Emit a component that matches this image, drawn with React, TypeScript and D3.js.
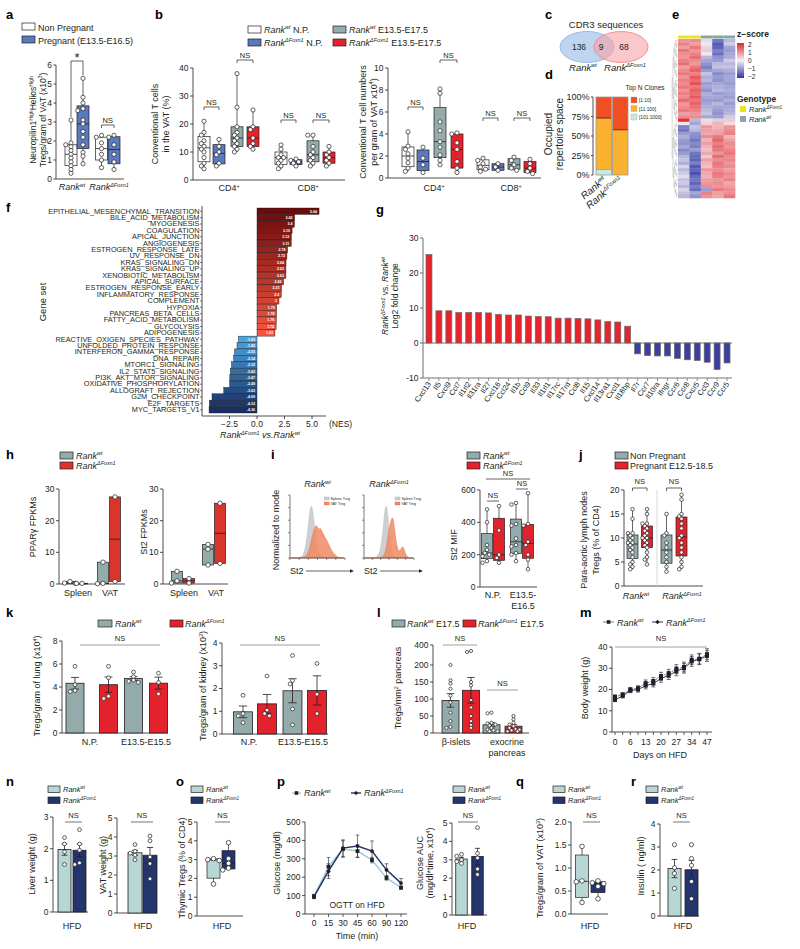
import React from "react";
import * as d3 from "d3";

const FONT = "'Liberation Sans', Arial, Helvetica, sans-serif";
const INK = "#231f20";
const BLUE = "#5b79bd";
const TEAL = "#93abaa";
const RED = "#e3222b";
const HRED = "#d9352b";
const LTEAL = "#b7d7d5";
const NAVY = "#24346c";

/* ================= DATA ================= */
// a
const aTicks = [0, 1, 2, 3, 4, 5, 6];
const aWtNP = [3.1, 1.9, 1.8, 1.7, 1.5, 1.3, 1.1, 0.9, 0.7, 0.5, 0.3];
const aWtP = [5.3, 4.3, 4.0, 3.7, 3.6, 3.1, 2.9, 2.5, 2.2, 1.8, 1.4, 1.2, 0.8];
const aKoNP = [2.3, 2.2, 1.9, 1.6, 1.3, 1.0, 0.6];
const aKoP = [2.3, 2.2, 1.8, 1.3, 0.9, 0.5];
// b (% of VAT)
const bPctCD4WtNP = [21, 17, 16, 14, 13, 12, 11, 10, 8, 6, 5, 4];
const bPctCD4KoNP = [14.5, 12, 10, 9, 6, 5];
const bPctCD4WtE = [38, 26, 19, 17, 16, 15, 14, 13, 12, 11, 10];
const bPctCD4KoE = [25, 19, 18, 15, 13, 12, 11];
const bPctCD8WtNP = [12.5, 11, 9, 8, 8, 7, 6, 5, 4];
const bPctCD8KoNP = [7.5, 7, 6.5, 6, 5];
const bPctCD8WtE = [16, 16, 12, 10, 9, 8, 7, 6, 5];
const bPctCD8KoE = [12, 10, 9, 8, 7, 6, 5];
// b (numbers per gram)
const bNumCD4WtNP = [4.2, 2.9, 2.6, 2.2, 1.8, 1.4, 0.9, 0.6];
const bNumCD4KoNP = [2.8, 1.8, 1.2, 0.5];
const bNumCD4WtE = [8.1, 7.7, 5.1, 4.3, 3.3, 2.8, 2.1, 1.6, 1.2];
const bNumCD4KoE = [4.1, 4.0, 3.2, 2.6, 1.5, 0.9, 0.5];
const bNumCD8WtNP = [1.8, 1.6, 1.3, 1.0, 0.8, 0.6];
const bNumCD8KoNP = [1.3, 1.0, 0.7];
const bNumCD8WtE = [1.9, 1.6, 1.2, 0.9, 0.7];
const bNumCD8KoE = [1.7, 1.3, 0.9, 0.6, 0.4];
// c
const cCounts = [136, 9, 68];
// d
const dSamples = ["wt", "ΔFoxn1"];
const dClones = ["[1:10]", "[11:100]", "[101:1000]"];
const d1_10 = [0.27, 0.42];
const d11_100 = [0.66, 0.58];
const d101_1000 = [0.07, 0.0];
// e
const eGenotype = ["KO", "KO", "WT", "WT", "WT"];
const eClusterSizes = [25, 23];
const eHeat = [
  [0.9, 1.0, -0.2, -1.3, -0.6], [1.1, 0.8, -0.1, -1.6, -0.4], [0.8, 1.2, 0.3, -1.5, -0.8],
  [1.2, 0.9, -0.3, -1.2, -0.9], [1.0, 1.1, 0.1, -1.4, -0.8], [0.9, 1.3, -0.6, -1.0, -0.7],
  [1.1, 1.0, -0.8, -0.9, -0.4], [1.3, 0.9, -1.0, -0.6, -0.6], [0.8, 1.2, -1.2, -0.5, -0.5],
  [1.0, 1.4, -0.9, -0.8, -0.7], [1.2, 1.1, -0.5, -1.1, -0.9], [0.9, 1.5, -0.7, -0.9, -0.8],
  [1.1, 1.3, -0.6, -1.0, -0.8], [1.0, 1.6, -0.9, -0.8, -0.9], [1.2, 1.2, -0.8, -0.7, -0.8],
  [0.9, 1.4, -1.0, -0.6, -0.7], [1.1, 1.3, -0.7, -0.9, -0.8], [1.0, 1.5, -0.8, -0.8, -0.9],
  [1.3, 1.2, -0.9, -0.9, -0.7], [0.9, 1.4, -0.8, -0.6, -0.9], [1.0, 1.3, -0.7, -0.8, -0.8],
  [1.2, 1.1, -0.6, -0.9, -0.7], [0.8, 0.9, -0.5, -1.0, -0.6], [1.0, 1.0, -0.8, -0.9, -0.4],
  [1.9, -0.6, 0.2, -0.3, 0.4],
  [0.1, -0.8, 0.3, 0.6, 0.2], [-1.2, -0.5, 0.9, 0.6, 0.9], [-1.3, -0.6, 0.8, 0.7, 1.0],
  [-0.9, -1.0, 0.7, 0.8, 1.1], [-0.7, -1.1, 1.0, 1.2, 0.6], [-0.9, -1.3, 0.6, 1.4, 0.8],
  [-1.0, -1.1, 0.8, 1.1, 1.0], [-0.8, -1.2, 0.6, 1.3, 0.9], [-1.1, -0.9, 0.5, 1.2, 1.1],
  [-0.9, -1.3, 0.7, 0.9, 1.2], [-0.6, -1.4, 0.4, 1.3, 1.0], [-0.5, -1.5, 0.8, 1.0, 1.1],
  [-0.7, -1.2, 0.6, 1.2, 0.9], [-0.3, -1.6, 0.5, 1.1, 1.0], [-0.6, -1.5, 0.9, 1.0, 0.8],
  [-0.4, -1.7, 0.7, 1.2, 1.0], [-0.2, -1.4, 0.6, 1.1, 0.9], [-0.5, -1.3, 0.8, 0.9, 1.1],
  [-0.4, -1.5, 0.9, 1.0, 0.7], [-0.6, -1.2, 1.0, 0.9, 0.8], [-0.3, -1.4, -0.9, 1.2, 1.0],
  [-0.5, -0.8, 1.1, 0.8, 1.0], [-0.6, -1.0, 0.9, 0.7, 1.2],
];
// f
const fNames = [
  "EPITHELIAL_MESENCHYMAL_TRANSITION", "BILE_ACID_METABOLISM", "MYOGENESIS", "COAGULATION",
  "APICAL_JUNCTION", "ANGIOGENESIS", "ESTROGEN_RESPONSE_LATE", "UV_RESPONSE_DN", "KRAS_SIGNALING_DN",
  "KRAS_SIGNALING_UP", "XENOBIOTIC_METABOLISM", "APICAL_SURFACE", "ESTROGEN_RESPONSE_EARLY",
  "INFLAMMATORY_RESPONSE", "COMPLEMENT", "HYPOXIA", "PANCREAS_BETA_CELLS", "FATTY_ACID_METABOLISM",
  "GLYCOLYSIS", "ADIPOGENESIS", "REACTIVE_OXIGEN_SPECIES_PATHWAY", "UNFOLDED_PROTEIN_RESPONSE",
  "INTERFERON_GAMMA_RESPONSE", "DNA_REPAIR", "MTORC1_SIGNALING", "IL2_STAT5_SIGNALING",
  "PI3K_AKT_MTOR_SIGNALING", "OXIDATIVE_PHOSPHORYLATION", "ALLOGRAFT_REJECTION", "G2M_CHECKPOINT",
  "E2F_TARGETS", "MYC_TARGETS_V1",
];
const fNES = [5.64, 3.42, 3.4, 3.19, 3.12, 3.11, 2.78, 2.72, 2.64, 2.63, 2.63, 2.42, 2.23, 2.2, 2, 1.79, 1.78, 1.76, 1.74, 1.63,
  -1.69, -1.82, -2.05, -2.14, -2.32, -2.43, -2.47, -2.49, -3.02, -4.09, -4.33, -4.36];
const fTicks = [-2.5, 0, 2.5, 5];
// g
const gGenes = ["Cxcl13", "Il5", "Cxcl9", "Ccl7", "Il1rl2", "Il31ra", "Il27", "Cxcl16", "Ccl24", "Il1b", "Ccl9", "Il33",
  "Il1rl1", "Il17rc", "Il17rd", "Ccl8", "Il15", "Cxcl14", "Il13ra1", "Cxcl1", "Il18bp", "Il7r", "Ccr7", "Il10ra",
  "Ifngr", "Ccr6", "Ccr8", "Cxcr5", "Ccl3", "Ccr9", "Ccr5"];
const gLFC = [25.3, 9.2, 9.2, 8.7, 8.7, 8.7, 8.6, 8.2, 8.0, 8.0, 7.7, 7.6, 7.5, 7.1, 7.1, 7.0, 6.9, 6.6, 6.1, 6.0, 4.8,
  -3.1, -3.6, -3.7, -3.7, -4.4, -4.8, -5.0, -5.5, -7.6, -5.7];
const gTicks = [-10, 0, 10, 20, 30];
// h
const hPparSpleenWt = [0.8, 0.3, 0.2];
const hPparSpleenKo = [0.2, 0.2];
const hPparVatWt = [6.9, 0.2, 0.1];
const hPparVatKo = [27.5, 0.8];
const hSt2SpleenWt = [4.0, 1.0, 0.3];
const hSt2SpleenKo = [1.7, 0.3];
const hSt2VatWt = [12.5, 11.0, 6.0];
const hSt2VatKo = [25.5, 6.5];
const hTicks = [0, 10, 20, 30];
// i
const iSpWt = [0, 0, 0, 0, 0, 0.01, 0.03, 0.08, 0.2, 0.45, 0.78, 1, 0.85, 0.55, 0.28, 0.12, 0.05, 0.02, 0.01, 0, 0, 0, 0, 0, 0, 0, 0, 0, 0, 0];
const iVatWt = [0, 0, 0, 0, 0, 0, 0, 0.01, 0.03, 0.07, 0.15, 0.3, 0.45, 0.55, 0.62, 0.5, 0.56, 0.48, 0.42, 0.35, 0.3, 0.22, 0.15, 0.1, 0.06, 0.03, 0.01, 0, 0, 0];
const iSpKo = [0, 0, 0, 0, 0, 0, 0.01, 0.02, 0.05, 0.12, 0.28, 0.55, 0.88, 1, 0.72, 0.35, 0.12, 0.04, 0.01, 0, 0, 0, 0, 0, 0, 0, 0, 0, 0, 0];
const iVatKo = [0, 0, 0, 0, 0, 0, 0, 0, 0, 0, 0.01, 0.03, 0.08, 0.2, 0.42, 0.6, 0.72, 0.75, 0.5, 0.26, 0.14, 0.13, 0.18, 0.22, 0.12, 0.04, 0.01, 0, 0, 0];
const iMifNPWt = [480, 400, 260, 230, 210, 200, 190, 160, 150];
const iMifNPKo = [500, 350, 200, 180, 150];
const iMifEWt = [520, 510, 390, 380, 300, 260, 250, 210, 200, 160];
const iMifEKo = [580, 390, 380, 280, 260, 200, 170, 110];
const iTicks = [0, 200, 400, 600];
// j
const jWtNP = [16, 14, 11, 11, 10.5, 10, 9.5, 9, 9, 8.5, 8, 7.5, 7, 6, 5, 4.5, 4, 3.5];
const jWtP = [16, 15, 13, 13, 12.5, 12, 11.5, 11, 10.5, 10, 10, 9.5, 9, 8.5, 8, 7, 6, 5.5, 4.5];
const jKoNP = [15, 11, 10.5, 9, 8, 7, 6, 5, 4, 3];
const jKoP = [19, 18, 15, 14.5, 14, 13, 12, 10.5, 10, 9, 8, 7, 6, 5, 4, 3.5];
const jTicks = [0, 5, 10, 15, 20];
// k
const kLungWtNP = [5.8, 4.2, 3.7, 3.6];
const kLungKoNP = [5.8, 4.8, 3.2, 3.0];
const kLungWtE = [5.3, 4.9, 4.6, 4.5, 4.4];
const kLungKoE = [5.2, 4.4, 3.4];
const kKidWtNP = [1.7, 0.9, 0.8, 0.5];
const kKidKoNP = [2.55, 1.05, 0.9, 0.8];
const kKidWtE = [3.45, 2.35, 2.2, 1.1, 0.4];
const kKidKoE = [3.1, 1.75, 0.9];
// l
const lIsletWt = [200, 155, 145, 130, 110, 90, 60, 35, 18, 15];
const lIsletKo = [340, 330, 150, 140, 97, 75, 50, 35, 24, 15];
const lExoWt = [60, 58, 30, 28, 25, 22, 15, 10, 8, 5, 5];
const lExoKo = [50, 40, 30, 25, 20, 15, 12, 10, 8, 5, 5];
const lTicks = [0, 50, 100, 150, 200, 400];
// m
const mDays = [0, 3, 6, 10, 13, 16, 20, 23, 27, 30, 34, 41, 47];
const mWt = [16.6, 17.6, 20.0, 20.6, 23.0, 24.0, 26.3, 27.6, 29.6, 30.6, 34.0, 34.5, 36.6];
const mKo = [15.1, 17.0, 19.5, 20.0, 21.8, 22.8, 25.2, 26.6, 28.6, 30.0, 33.2, 34.2, 35.8];
const mErr = [0.8, 1.0, 1.0, 1.2, 1.5, 1.6, 1.8, 1.9, 2.1, 2.3, 2.3, 2.5, 2.6];
// n
const nLiverWt = [2.35, 2.15, 1.9, 1.5];
const nLiverKo = [2.6, 2.15, 1.95, 1.55, 1.5];
const nVatWt = [3.6, 3.25, 3.15, 3.05, 2.8];
const nVatKo = [4.05, 3.8, 2.95, 2.6, 1.8];
// o
const oThyWt = [3.05, 3.0, 2.95, 1.7];
const oThyKo = [3.9, 3.05, 2.8, 2.55, 2.45];
// p
const pTimes = [0, 15, 30, 45, 60, 90, 120];
const pWt = [95, 257, 353, 342, 293, 196, 143];
const pWtErr = [12, 50, 45, 35, 15, 12, 8];
const pKo = [95, 233, 358, 369, 342, 240, 168];
const pKoErr = [10, 40, 45, 60, 55, 33, 25];
const pAucWt = [3.3, 3.2, 3.0, 2.9, 2.8];
const pAucKo = [4.75, 3.35, 3.1, 2.5, 2.2];
// q
const qVatWt = [1.47, 0.72, 0.70, 0.25];
const qVatKo = [0.72, 0.68, 0.66, 0.6, 0.33];
// r
const rInsWt = [3.1, 2.1, 1.85, 1.2];
const rInsKo = [3.1, 2.5, 2.2, 1.5, 0.75];

/* ================= HELPERS ================= */
function gq(s: number[], p: number) {
  const n = s.length;
  const r = (n + 1) * p;
  if (r <= 1) return s[0];
  if (r >= n) return s[n - 1];
  const lo = Math.floor(r);
  const f = r - lo;
  return s[lo - 1] + f * (s[lo] - s[lo - 1]);
}
function stats(vals: number[]) {
  const s = [...vals].sort((a, b) => a - b);
  return { min: s[0], max: s[s.length - 1], q1: gq(s, 0.25), med: d3.median(s) as number, q3: gq(s, 0.75) };
}
function dodge(vals: number[], y: any, cx: number, r: number, maxOff: number) {
  const out: { x: number; y: number }[] = [];
  const sorted = [...vals].sort((a, b) => b - a);
  const step = r * 1.25;
  const cands = [0];
  for (let k = 1; k * step <= maxOff + 0.01; k++) cands.push(-k * step, k * step);
  sorted.forEach((v) => {
    const yy = y(v);
    let bestO = cands[0], bestD = -1;
    for (const o of cands) {
      const d = out.reduce((m, p) => Math.min(m, Math.hypot(p.x - (cx + o), p.y - yy)), Infinity);
      if (d >= 2 * r * 0.9) { bestO = o; break; }
      if (d > bestD) { bestD = d; bestO = o; }
    }
    out.push({ x: cx + bestO, y: yy });
  });
  return out;
}
function Pts({ vals, y, cx, r = 2.1, maxOff = 5, fill = "#fff" }: any) {
  const ps = dodge(vals, y, cx, r, maxOff);
  return <g>{ps.map((p, i) => <circle key={i} cx={p.x} cy={p.y} r={r} fill={fill} stroke={INK} strokeWidth={0.7} />)}</g>;
}
function BoxPlot({ cx, w, vals, y, fill, r = 2.1, minmax = false }: any) {
  const s = stats(vals);
  const lo = minmax ? s.min : s.q1;
  const hi = minmax ? s.max : s.q3;
  return (
    <g>
      {!minmax && <line x1={cx} x2={cx} y1={y(s.min)} y2={y(s.max)} stroke={INK} strokeWidth={0.7} />}
      <rect x={cx - w / 2} y={y(hi)} width={w} height={Math.max(0.6, y(lo) - y(hi))} fill={fill} stroke={INK} strokeWidth={0.7} />
      <line x1={cx - w / 2} x2={cx + w / 2} y1={y(s.med)} y2={y(s.med)} stroke={INK} strokeWidth={0.8} />
      <Pts vals={vals} y={y} cx={cx} r={r} maxOff={w / 2} />
    </g>
  );
}
function BarSem({ cx, w, vals, y, fill, r = 1.9 }: any) {
  const m = d3.mean(vals) as number;
  const se = (d3.deviation(vals) || 0) / Math.sqrt(vals.length);
  const cw = w * 0.22;
  return (
    <g>
      <rect x={cx - w / 2} y={y(m)} width={w} height={y(0) - y(m)} fill={fill} stroke={INK} strokeWidth={0.8} />
      <path d={`M${cx},${y(Math.max(0, m - se))}V${y(m + se)}M${cx - cw},${y(m + se)}H${cx + cw}M${cx - cw},${y(Math.max(0, m - se))}H${cx + cw}`} stroke={INK} strokeWidth={0.8} fill="none" />
      <Pts vals={vals} y={y} cx={cx} r={r} maxOff={w / 2 - 1} />
    </g>
  );
}
function YAxis({ x, y, ticks, fmt, size = 8.5, len = 3, color = INK, sw = 0.8 }: any) {
  const rg = y.range();
  const top = Math.min(...rg), bot = Math.max(...rg);
  const f = fmt || ((v: number) => String(v));
  return (
    <g>
      <line x1={x} x2={x} y1={top} y2={bot} stroke={color} strokeWidth={sw} />
      {ticks.map((t: number) => (
        <g key={t}>
          <line x1={x - len} x2={x} y1={y(t)} y2={y(t)} stroke={color} strokeWidth={sw} />
          <text x={x - len - 1.5} y={y(t) + size * 0.35} textAnchor="end" fontSize={size} fill={INK}>{f(t)}</text>
        </g>
      ))}
    </g>
  );
}
function HLine({ x1, x2, y, c = INK, w = 0.8 }: any) {
  return <line x1={x1} x2={x2} y1={y} y2={y} stroke={c} strokeWidth={w} />;
}
function Bracket({ x1, x2, y, label = "NS", legs = 3, l1, l2, size = 7.5, ty, color = INK, sw = 0.7 }: any) {
  const a = l1 ?? y + legs, b = l2 ?? y + legs;
  return (
    <g>
      <path d={`M${x1},${a}V${y}H${x2}V${b}`} fill="none" stroke={color} strokeWidth={sw} />
      <text x={(x1 + x2) / 2} y={ty ?? y - 2.5} textAnchor="middle" fontSize={size} fill={INK}>{label}</text>
    </g>
  );
}
function Letter({ x, y, t }: any) {
  return <text x={x} y={y} fontSize={13} fontWeight="bold" fill="#000">{t}</text>;
}
function LRect({ x, y, fill, w = 13, h = 7 }: any) {
  return <rect x={x} y={y} width={w} height={h} fill={fill} stroke={INK} strokeWidth={0.7} />;
}
function VText({ x, y, size = 9, children }: any) {
  return <text transform={`translate(${x},${y}) rotate(-90)`} textAnchor="middle" fontSize={size} fill={INK}>{children}</text>;
}
function rk(sup: string, size: number, after?: string, italicAfter = false) {
  const d = size * 0.38;
  return (
    <>
      <tspan fontStyle="italic">Rank</tspan>
      <tspan fontStyle="italic" fontSize={size * 0.6} dy={-d}>{sup}</tspan>
      {after !== undefined ? <tspan dy={d} fontStyle={italicAfter ? "italic" : undefined}>{after}</tspan> : null}
    </>
  );
}
function sp(t: string, size: number, after = "") {
  const d = size * 0.38;
  return (
    <>
      <tspan fontSize={size * 0.6} dy={-d}>{t}</tspan>
      <tspan dy={d}>{after}</tspan>
    </>
  );
}

/* ================= PANELS ================= */
function PanelA() {
  const y = d3.scaleLinear().domain([0, 6]).range([179, 65]);
  const xs = [71, 83, 101.5, 114];
  const sets = [aWtNP, aWtP, aKoNP, aKoP];
  const fills = ["#fff", BLUE, "#fff", BLUE];
  return (
    <g>
      <Letter x={6} y={19} t="a" />
      <LRect x={22} y={23} fill="#fff" />
      <text x={38} y={30.5} fontSize={9}>Non Pregnant</text>
      <LRect x={22} y={36} fill={BLUE} />
      <text x={38} y={43.5} fontSize={9}>Pregnant (E13.5-E16.5)</text>
      <YAxis x={56} y={y} ticks={aTicks} len={2.5} />
      <HLine x1={56} x2={124} y={179} />
      {sets.map((s, i) => <BoxPlot key={i} cx={xs[i]} w={12} vals={s} y={y} fill={fills[i]} />)}
      <Bracket x1={71} x2={83} y={61} label="*" size={13} ty={62} l1={y(3.1) - 3} l2={y(5.3) - 3} />
      <Bracket x1={101.5} x2={114} y={125} />
      <text x={72} y={190} textAnchor="middle" fontSize={9}>{rk("wt", 9)}</text>
      <text x={109} y={190} textAnchor="middle" fontSize={9}>{rk("ΔFoxn1", 9)}</text>
      <VText x={36} y={120} size={8.5}>Neuropilin1{sp("High", 8.5, "Helios")}{sp("High", 8.5)}</VText>
      <VText x={45.5} y={120} size={8.5}>Tregs/gram of VAT (x10{sp("3", 8.5, ")")}</VText>
    </g>
  );
}

function PanelB() {
  const yl = d3.scaleLinear().domain([0, 40]).range([180, 68]);
  const yr = d3.scaleLinear().domain([0, 10]).range([178, 68]);
  const fills = ["#fff", BLUE, TEAL, RED, "#fff", BLUE, TEAL, RED];
  const lx = [204, 219, 237, 253, 281, 296, 313, 329];
  const rx = [408, 423, 440, 457, 483, 498, 514, 530];
  const ld = [bPctCD4WtNP, bPctCD4KoNP, bPctCD4WtE, bPctCD4KoE, bPctCD8WtNP, bPctCD8KoNP, bPctCD8WtE, bPctCD8KoE];
  const rd = [bNumCD4WtNP, bNumCD4KoNP, bNumCD4WtE, bNumCD4KoE, bNumCD8WtNP, bNumCD8KoNP, bNumCD8WtE, bNumCD8KoE];
  return (
    <g>
      <Letter x={155} y={19} t="b" />
      <LRect x={248} y={26} fill="#fff" />
      <text x={264} y={32.5} fontSize={9}>{rk("wt", 9, " N.P.")}</text>
      <LRect x={248} y={39} fill={BLUE} />
      <text x={264} y={45.5} fontSize={9}>{rk("ΔFoxn1", 9, " N.P.")}</text>
      <LRect x={333} y={26} fill={TEAL} />
      <text x={349} y={32.5} fontSize={9}>{rk("wt", 9, " E13.5-E17.5")}</text>
      <LRect x={333} y={39} fill={RED} />
      <text x={349} y={45.5} fontSize={9}>{rk("ΔFoxn1", 9, " E13.5-E17.5")}</text>

      <YAxis x={193} y={yl} ticks={[0, 10, 20, 30, 40]} />
      <HLine x1={193} x2={345} y={180} />
      {ld.map((s, i) => <BoxPlot key={i} cx={lx[i]} w={12} vals={s} y={yl} fill={fills[i]} />)}
      <Bracket x1={lx[0]} x2={lx[1]} y={107} />
      <Bracket x1={lx[2]} x2={lx[3]} y={60} />
      <Bracket x1={lx[4]} x2={lx[5]} y={120} />
      <Bracket x1={lx[6]} x2={lx[7]} y={120} />
      <text x={229} y={191} textAnchor="middle" fontSize={9}>CD4{sp("+", 9)}</text>
      <text x={308} y={191} textAnchor="middle" fontSize={9}>CD8{sp("+", 9)}</text>
      <VText x={158} y={124}>Conventional T cells</VText>
      <VText x={169} y={124}>in the VAT (%)</VText>

      <YAxis x={388} y={yr} ticks={[0, 2, 4, 6, 8, 10]} />
      <HLine x1={388} x2={541} y={178} />
      {rd.map((s, i) => <BoxPlot key={i} cx={rx[i]} w={12} vals={s} y={yr} fill={fills[i]} />)}
      <Bracket x1={rx[0]} x2={rx[1]} y={107} />
      <Bracket x1={rx[2]} x2={rx[3]} y={60} />
      <Bracket x1={rx[4]} x2={rx[5]} y={118} />
      <Bracket x1={rx[6]} x2={rx[7]} y={118} />
      <text x={434} y={191} textAnchor="middle" fontSize={9}>CD4{sp("+", 9)}</text>
      <text x={511} y={191} textAnchor="middle" fontSize={9}>CD8{sp("+", 9)}</text>
      <VText x={366} y={122}>Conventional T cell numbers</VText>
      <VText x={376.5} y={122}>per gram of VAT x10{sp("4", 9, ")")}</VText>
    </g>
  );
}

function PanelC() {
  return (
    <g>
      <Letter x={545} y={19} t="c" />
      <text x={606} y={28} textAnchor="middle" fontSize={9.5}>CDR3 sequences</text>
      <ellipse cx={587} cy={47} rx={27} ry={15.5} fill="#aac7ea" fillOpacity={0.75} stroke="#86ade0" strokeWidth={0.8} />
      <ellipse cx={621} cy={47} rx={27} ry={15.5} fill="#f6a2a8" fillOpacity={0.6} stroke="#ef7d85" strokeWidth={0.8} />
      <text x={579} y={50} textAnchor="middle" fontSize={8.5}>{cCounts[0]}</text>
      <text x={601} y={50} textAnchor="middle" fontSize={8.5}>{cCounts[1]}</text>
      <text x={624} y={50} textAnchor="middle" fontSize={8.5}>{cCounts[2]}</text>
      <text x={583} y={71} textAnchor="middle" fontSize={9.5}>{rk("wt", 9.5)}</text>
      <text x={625} y={71} textAnchor="middle" fontSize={9.5}>{rk("ΔFoxn1", 9.5)}</text>
    </g>
  );
}

function PanelD() {
  const y = d3.scaleLinear().domain([0, 1]).range([175, 97]);
  const x = d3.scaleBand<string>().domain(dSamples).range([596, 628]).paddingInner(0.06);
  const rows = dSamples.map((s, i) => ({ s, c: d101_1000[i], b: d11_100[i], a: d1_10[i] }));
  const stack = d3.stack<any>().keys(["c", "b", "a"])(rows);
  const cols: any = { a: "#f04e23", b: "#f9b12f", c: "#c6e9e1" };
  const labs: any = { a: dClones[0], b: dClones[1], c: dClones[2] };
  const pct = d3.format(".0%");
  return (
    <g>
      <Letter x={545} y={79} t="d" />
      <text x={645} y={90} textAnchor="middle" fontSize={6.5}>Top N Clones</text>
      <YAxis x={593} y={y} ticks={[0, 0.25, 0.5, 0.75, 1]} fmt={pct} size={9} len={2} />
      {stack.map((layer: any) =>
        layer.map((seg: any, i: number) => (
          <rect key={layer.key + i} x={x(rows[i].s)} y={y(seg[1])} width={x.bandwidth()} height={Math.max(0, y(seg[0]) - y(seg[1]))} fill={cols[layer.key]} />
        ))
      )}
      {stack[2].map((seg: any, i: number) => (
        <line key={"b" + i} x1={x(rows[i].s)} x2={(x(rows[i].s) as number) + x.bandwidth()} y1={y(seg[0])} y2={y(seg[0])} stroke="#7d2a14" strokeWidth={1} />
      ))}
      {stack[1].map((seg: any, i: number) => rows[i].c > 0 ? (
        <line key={"c" + i} x1={x(rows[i].s)} x2={(x(rows[i].s) as number) + x.bandwidth()} y1={y(seg[0])} y2={y(seg[0])} stroke="#999" strokeWidth={0.7} />
      ) : null)}
      {rows.map((r, i) => (
        <rect key={"o" + i} x={x(r.s)} y={y(1)} width={x.bandwidth()} height={y(0) - y(1)} fill="none" stroke="#9a9a9a" strokeWidth={0.8} />
      ))}
      {["a", "b", "c"].map((k, i) => (
        <g key={k}>
          <rect x={631} y={97 + i * 8.5} width={6} height={6} fill={cols[k]} stroke="#aaa" strokeWidth={0.4} />
          <text x={639} y={102 + i * 8.5} fontSize={4.8}>{labs[k]}</text>
        </g>
      ))}
      {rows.map((r, i) => (
        <text key={"l" + i} transform={`translate(${(x(r.s) as number) + x.bandwidth() / 2 + 3},${181}) rotate(-40)`} textAnchor="end" fontSize={10}>{rk(r.s, 10)}</text>
      ))}
      <VText x={552} y={134} size={10}>Occupied</VText>
      <VText x={563} y={134} size={10}>repertoire space</VText>
    </g>
  );
}

function PanelE() {
  const x0 = 678, x1 = 735, y0 = 39, y1 = 198;
  const xs = d3.scaleBand<number>().domain(d3.range(5)).range([x0, x1]);
  const ys = d3.scaleBand<number>().domain(d3.range(eHeat.length)).range([y0, y1]);
  const col = d3.scaleLinear<string>().domain([-2, 0, 2]).range(["#2b36a6", "#f5f0f5", "#e3262b"]).clamp(true);
  const segs: string[] = [];
  const split = eClusterSizes[0];
  function node(lo: number, hi: number): { y: number; h: number } {
    if (hi - lo === 1) return { y: (ys(lo) as number) + ys.bandwidth() / 2, h: 0 };
    const mid = lo === 0 && hi === eHeat.length ? split : Math.floor((lo + hi) / 2);
    const L = node(lo, mid), R = node(mid, hi);
    const h = Math.max(L.h, R.h) + 1;
    const xh = x0 - 0.5 - h * 0.9, xl = x0 - 0.5 - L.h * 0.9, xr = x0 - 0.5 - R.h * 0.9;
    segs.push(`M${xl},${L.y}H${xh}V${R.y}H${xr}`);
    return { y: (L.y + R.y) / 2, h };
  }
  node(0, eHeat.length);
  const zb = d3.scaleLinear().domain([-2, 2]).range([77, 45]);
  return (
    <g>
      <Letter x={672} y={19} t="e" />
      {segs.map((d, i) => <path key={i} d={d} fill="none" stroke="#888" strokeWidth={0.35} />)}
      {eHeat.map((row, ri) =>
        row.map((v, ci) => (
          <rect key={ri + "-" + ci} x={xs(ci)} y={ys(ri)} width={xs.bandwidth() + 0.3} height={ys.bandwidth() + 0.3} fill={col(v)} />
        ))
      )}
      {eGenotype.map((g, ci) => (
        <rect key={"g" + ci} x={xs(ci)} y={35.5} width={xs.bandwidth()} height={3} fill={g === "KO" ? "#e6e61a" : "#8aa5a5"} />
      ))}
      <defs>
        <linearGradient id="zgrad" x1="0" y1="0" x2="0" y2="1">
          <stop offset="0%" stopColor={col(2)} />
          <stop offset="50%" stopColor={col(0)} />
          <stop offset="100%" stopColor={col(-2)} />
        </linearGradient>
      </defs>
      <text x={737} y={37} fontSize={8.5} fontWeight="bold">z−score</text>
      <rect x={737} y={43} width={7} height={35} fill="url(#zgrad)" />
      {[2, 1, 0, -1, -2].map((t) => (
        <text key={t} x={748} y={zb(t) + 2} fontSize={6.5}>{t < 0 ? "−" + Math.abs(t) : t}</text>
      ))}
      <text x={737} y={102} fontSize={8.5} fontWeight="bold">Genotype</text>
      <rect x={740} y={106} width={6} height={6} fill="#e6e61a" />
      <text x={749} y={112} fontSize={7.5}>{rk("ΔFoxn1", 7.5)}</text>
      <rect x={740} y={116} width={6} height={6} fill="#8aa5a5" />
      <text x={749} y={122} fontSize={7.5}>{rk("wt", 7.5)}</text>
    </g>
  );
}

function PanelF() {
  const y = d3.scaleBand<string>().domain(fNames).range([208, 413]);
  const x = d3.scaleLinear().domain([0, 5]).range([257, 312]);
  const nPos = fNES.filter((v) => v > 0).length;
  const nNeg = fNES.length - nPos;
  const redI = d3.interpolateRgb("#6b0b0d", "#f5553f");
  const bluI = d3.interpolateRgb("#4aa3df", "#1a2d60");
  const color = (i: number) => (i < nPos ? redI(i / (nPos - 1)) : bluI((i - nPos) / (nNeg - 1)));
  const fmt = d3.format(".1f");
  const bw = y.bandwidth();
  return (
    <g>
      <Letter x={6} y={212} t="f" />
      <line x1={202} x2={202} y1={206} y2={416} stroke={INK} strokeWidth={0.8} />
      <line x1={202} x2={326} y1={416} y2={416} stroke={INK} strokeWidth={0.8} />
      {fNames.map((n, i) => {
        const yy = y(n) as number;
        const v = fNES[i];
        const xa = x(Math.min(0, v)), xb = x(Math.max(0, v));
        return (
          <g key={n}>
            <rect x={xa} y={yy} width={xb - xa} height={bw} fill={color(i)} stroke="#1a1a1a" strokeWidth={0.4} />
            <text x={v > 0 ? xb - 2 : x(0) - 2} y={yy + bw / 2 + 1.3} textAnchor="end" fontSize={3.6} fill="#fff" fontWeight="bold">{v}</text>
            <line x1={200} x2={202} y1={yy + bw / 2} y2={yy + bw / 2} stroke={INK} strokeWidth={0.6} />
            <text transform={`translate(199.5,${yy + bw / 2 + 2.3}) scale(1.17,1)`} textAnchor="end" fontSize={6.3}>{n}</text>
          </g>
        );
      })}
      {fTicks.map((t) => (
        <g key={t}>
          <line x1={x(t)} x2={x(t)} y1={416} y2={419} stroke={INK} strokeWidth={0.8} />
          <text x={x(t)} y={427} textAnchor="middle" fontSize={8.5}>{fmt(t)}</text>
        </g>
      ))}
      <text x={329} y={427} fontSize={8.5}>(NES)</text>
      <text x={260} y={438} textAnchor="middle" fontSize={9}>
        {rk("ΔFoxn1", 9, " vs.", true)}<tspan fontStyle="italic">Rank</tspan><tspan fontStyle="italic" fontSize={5.4} dy={-3.4}>wt</tspan>
      </text>
      <VText x={46} y={302} size={9.5}>Gene set</VText>
    </g>
  );
}

function PanelG() {
  const y = d3.scaleLinear().domain([-10, 30]).range([378, 238]);
  const x = d3.scaleBand<string>().domain(gGenes).range([424, 732]).paddingInner(0.4).paddingOuter(0.2);
  return (
    <g>
      <Letter x={376} y={214} t="g" />
      <YAxis x={423} y={y} ticks={gTicks} color="#777" sw={1.1} />
      <line x1={423} x2={732} y1={y(0)} y2={y(0)} stroke="#777" strokeWidth={1.1} />
      <line x1={423} x2={732} y1={y(-10)} y2={y(-10)} stroke="#777" strokeWidth={1.1} />
      {gGenes.map((g, i) => {
        const v = gLFC[i];
        const xx = x(g) as number;
        const cx = xx + x.bandwidth() / 2;
        return (
          <g key={g}>
            <rect x={xx} y={y(Math.max(0, v))} width={x.bandwidth()} height={Math.abs(y(v) - y(0))} fill={v > 0 ? "#e8232b" : "#3d3ea2"} stroke="#6a6a6a" strokeWidth={0.7} />
            <line x1={cx} x2={cx} y1={378} y2={381} stroke="#777" strokeWidth={0.8} />
            <text transform={`translate(${cx + 2.5},${384}) rotate(-55)`} textAnchor="end" fontSize={7.5}>{g}</text>
          </g>
        );
      })}
      <text transform="translate(388,296) rotate(-90)" textAnchor="middle" fontSize={8.5}>
        {rk("ΔFoxn1", 8.5, " vs. ")}<tspan fontStyle="italic">Rank</tspan><tspan fontStyle="italic" fontSize={5.1} dy={-3.2}>wt</tspan>
      </text>
      <VText x={398} y={296} size={8.5}>Log2 fold change</VText>
    </g>
  );
}

function PanelH() {
  const y = d3.scaleLinear().domain([0, 30]).range([584, 489]);
  const fills = [TEAL, HRED, TEAL, HRED];
  const L = [hPparSpleenWt, hPparSpleenKo, hPparVatWt, hPparVatKo];
  const R = [hSt2SpleenWt, hSt2SpleenKo, hSt2VatWt, hSt2VatKo];
  const lx = [70, 82, 103, 115];
  const rx = [177, 189, 208, 220];
  return (
    <g>
      <Letter x={6} y={459} t="h" />
      <LRect x={60} y={452} fill={TEAL} />
      <text x={76} y={458.5} fontSize={9}>{rk("wt", 9)}</text>
      <LRect x={60} y={462} fill={HRED} />
      <text x={76} y={468.5} fontSize={9}>{rk("ΔFoxn1", 9)}</text>

      <YAxis x={59} y={y} ticks={hTicks} />
      <HLine x1={59} x2={125} y={584} />
      {L.map((s, i) => <BoxPlot key={i} cx={lx[i]} w={11} vals={s} y={y} fill={fills[i]} minmax r={2.2} />)}
      <text x={78} y={596} textAnchor="middle" fontSize={9}>Spleen</text>
      <text x={110} y={596} textAnchor="middle" fontSize={9}>VAT</text>
      <VText x={36} y={527}>PPARγ FPKMs</VText>

      <YAxis x={163} y={y} ticks={hTicks} />
      <HLine x1={163} x2={228} y={584} />
      {R.map((s, i) => <BoxPlot key={i} cx={rx[i]} w={11} vals={s} y={y} fill={fills[i]} minmax r={2.2} />)}
      <text x={184} y={596} textAnchor="middle" fontSize={9}>Spleen</text>
      <text x={216} y={596} textAnchor="middle" fontSize={9}>VAT</text>
      <VText x={147} y={532}>St2 FPKMs</VText>
    </g>
  );
}

function Flow({ x0, x1, yT, yB, spl, vat, sup }: any) {
  const x = d3.scaleLinear().domain([0, spl.length - 1]).range([x0 + 1, x1 - 1]);
  const y = d3.scaleLinear().domain([0, 1]).range([yB, yT + 8]);
  const ar = d3.area<number>().x((_, i) => x(i)).y0(yB).y1((d) => y(d)).curve(d3.curveBasis);
  const lx = x0 + (x1 - x0) * 0.62;
  return (
    <g>
      <text x={(x0 + x1) / 2} y={yT - 8} textAnchor="middle" fontSize={9}>{rk(sup, 9)}</text>
      <path d={ar(spl) as string} fill="#cfcfcf" stroke="#b3b3b3" strokeWidth={0.4} />
      <path d={ar(vat) as string} fill="#f08a63" fillOpacity={0.85} stroke="#e4663e" strokeWidth={0.4} />
      <line x1={x0} x2={x0} y1={yT} y2={yB} stroke={INK} strokeWidth={0.6} />
      <line x1={x0} x2={x1} y1={yB} y2={yB} stroke={INK} strokeWidth={0.6} />
      {d3.range(6).map((i) => (
        <line key={"ty" + i} x1={x0 - 2} x2={x0} y1={yB - (i * (yB - yT)) / 5} y2={yB - (i * (yB - yT)) / 5} stroke={INK} strokeWidth={0.5} />
      ))}
      {d3.range(7).map((i) => (
        <line key={"tx" + i} x1={x0 + (i * (x1 - x0)) / 6} x2={x0 + (i * (x1 - x0)) / 6} y1={yB} y2={yB + 2} stroke={INK} strokeWidth={0.5} />
      ))}
      <rect x={lx} y={yT + 2} width={5} height={3} fill="#cfcfcf" stroke="#999" strokeWidth={0.3} />
      <text x={lx + 6.5} y={yT + 4.8} fontSize={3.6}>Spleen Treg</text>
      <rect x={lx} y={yT + 7} width={5} height={3} fill="#f08a63" stroke="#c55" strokeWidth={0.3} />
      <text x={lx + 6.5} y={yT + 9.8} fontSize={3.6}>VAT Treg</text>
      <text x={x0} y={574} fontSize={9}>St2</text>
      <line x1={x0 + 16} x2={x1 + 6} y1={571} y2={571} stroke={INK} strokeWidth={0.7} />
      <path d={`M${x1 + 9},571L${x1 + 5},569.3L${x1 + 5},572.7Z`} fill={INK} />
    </g>
  );
}

function PanelI() {
  const y = d3.scaleLinear().domain([0, 600]).range([587, 490]);
  const cx = [487, 499, 516, 528];
  const sets = [iMifNPWt, iMifNPKo, iMifEWt, iMifEKo];
  const fills = [TEAL, RED, TEAL, RED];
  return (
    <g>
      <Letter x={271} y={459} t="i" />
      <Flow x0={290} x1={345} yT={495} yB={558} spl={iSpWt} vat={iVatWt} sup="wt" />
      <Flow x0={364} x1={414} yT={495} yB={558} spl={iSpKo} vat={iVatKo} sup="ΔFoxn1" />
      <VText x={279} y={530} size={9}>Normalized to mode</VText>

      <LRect x={467} y={452} fill={TEAL} />
      <text x={483} y={458.5} fontSize={9}>{rk("wt", 9)}</text>
      <LRect x={467} y={462} fill={RED} />
      <text x={483} y={468.5} fontSize={9}>{rk("ΔFoxn1", 9)}</text>
      <YAxis x={480} y={y} ticks={iTicks} />
      <HLine x1={480} x2={537} y={587} />
      {sets.map((s, i) => <BoxPlot key={i} cx={cx[i]} w={11} vals={s} y={y} fill={fills[i]} r={1.8} />)}
      <Bracket x1={486} x2={530} y={479} legs={0} ty={476} />
      <Bracket x1={cx[0]} x2={cx[1]} y={501} legs={0} ty={498} />
      <Bracket x1={cx[2]} x2={cx[3]} y={489} legs={0} ty={486} />
      <text x={493} y={598} textAnchor="middle" fontSize={9}>N.P.</text>
      <text x={523} y={598} textAnchor="middle" fontSize={9}>E13.5-</text>
      <text x={523} y={609} textAnchor="middle" fontSize={9}>E16.5</text>
      <VText x={457} y={545} size={9}>St2 MIF</VText>
    </g>
  );
}

function PanelJ() {
  const y = d3.scaleLinear().domain([0, 20]).range([586, 490]);
  const cx = [632.5, 647, 666.5, 681.5];
  const sets = [jWtNP, jWtP, jKoNP, jKoP];
  const fills = [TEAL, RED, TEAL, RED];
  return (
    <g>
      <Letter x={579} y={459} t="j" />
      <LRect x={615} y={452} fill={TEAL} />
      <text x={630} y={458.5} fontSize={9}>Non Pregnant</text>
      <LRect x={615} y={462} fill={RED} />
      <text x={630} y={468.5} fontSize={9}>Pregnant E12.5-18.5</text>
      <YAxis x={624} y={y} ticks={jTicks} />
      <HLine x1={624} x2={703} y={586} />
      <line x1={657} x2={657} y1={490} y2={586} stroke="#cfcfcf" strokeWidth={0.8} />
      {sets.map((s, i) => <BoxPlot key={i} cx={cx[i]} w={11} vals={s} y={y} fill={fills[i]} r={1.8} />)}
      <Bracket x1={cx[0]} x2={cx[1]} y={488} ty={484} />
      <Bracket x1={cx[2]} x2={cx[3]} y={488} ty={484} />
      <text x={636} y={599} textAnchor="middle" fontSize={9}>{rk("wt", 9)}</text>
      <text x={682} y={599} textAnchor="middle" fontSize={9}>{rk("ΔFoxn1", 9)}</text>
      <VText x={587} y={540} size={9}>Para-aortic lymph nodes</VText>
      <VText x={599} y={540} size={9}>Tregs (% of CD4)</VText>
    </g>
  );
}

function PanelK() {
  const yl = d3.scaleLinear().domain([0, 8]).range([733, 641]);
  const yr = d3.scaleLinear().domain([0, 4]).range([734, 643]);
  const fills = [TEAL, RED, TEAL, RED];
  const lx = [75, 108.5, 133.5, 158.5];
  const rx = [243, 267, 292.5, 317];
  const L = [kLungWtNP, kLungKoNP, kLungWtE, kLungKoE];
  const R = [kKidWtNP, kKidKoNP, kKidWtE, kKidKoE];
  return (
    <g>
      <Letter x={6} y={617} t="k" />
      <LRect x={98} y={620} fill={TEAL} w={14} />
      <text x={115} y={626.5} fontSize={9}>{rk("wt", 9)}</text>
      <LRect x={170} y={620} fill={RED} w={13} />
      <text x={185} y={626.5} fontSize={9}>{rk("ΔFoxn1", 9)}</text>

      <YAxis x={62} y={yl} ticks={[0, 2, 4, 6, 8]} />
      <HLine x1={62} x2={168} y={733} />
      {L.map((s, i) => <BarSem key={i} cx={lx[i]} w={18} vals={s} y={yl} fill={fills[i]} />)}
      <Bracket x1={80} x2={160} y={645} legs={0} ty={641} color="#777" />
      <text x={90} y={745} textAnchor="middle" fontSize={9}>N.P.</text>
      <text x={146} y={745} textAnchor="middle" fontSize={9}>E13.5-E15.5</text>
      <VText x={40} y={686} size={9}>Tregs/gram of lung (x10{sp("4", 9, ")")}</VText>

      <YAxis x={222} y={yr} ticks={[0, 1, 2, 3, 4]} />
      <HLine x1={222} x2={328} y={734} />
      {R.map((s, i) => <BarSem key={i} cx={rx[i]} w={19} vals={s} y={yr} fill={fills[i]} />)}
      <Bracket x1={240} x2={320} y={645} legs={0} ty={641} color="#777" />
      <text x={249} y={745} textAnchor="middle" fontSize={9}>N.P.</text>
      <text x={303} y={745} textAnchor="middle" fontSize={9}>E13.5-E15.5</text>
      <VText x={206} y={686} size={9}>Tregs/gram of kidney (x10{sp("3", 9, ")")}</VText>
    </g>
  );
}

function PanelL() {
  const y = d3.scaleLinear().domain([0, 150, 200, 400]).range([733, 682, 665, 645]);
  const cx = [450.5, 471, 491.5, 513.5];
  const sets = [lIsletWt, lIsletKo, lExoWt, lExoKo];
  const fills = [TEAL, RED, TEAL, RED];
  return (
    <g>
      <Letter x={377} y={617} t="l" />
      <LRect x={392} y={620} fill={TEAL} />
      <text x={407} y={626.5} fontSize={9}>{rk("wt", 9, " E17.5")}</text>
      <LRect x={463} y={620} fill={RED} />
      <text x={478} y={626.5} fontSize={9}>{rk("ΔFoxn1", 9, " E17.5")}</text>
      <YAxis x={433} y={y} ticks={lTicks} />
      <HLine x1={433} x2={529} y={733} />
      {sets.map((s, i) => <BarSem key={i} cx={cx[i]} w={17} vals={s} y={y} fill={fills[i]} r={1.6} />)}
      <Bracket x1={443} x2={477} y={645} legs={0} ty={641} color="#777" />
      <Bracket x1={487} x2={518} y={690} legs={0} ty={686} color="#777" />
      <text x={456} y={745} textAnchor="middle" fontSize={9}>β-islets</text>
      <text x={507} y={745} textAnchor="middle" fontSize={9}>exocrine</text>
      <text x={507} y={756} textAnchor="middle" fontSize={9}>pancreas</text>
      <VText x={401} y={688} size={9}>Tregs/mm{sp("2", 9, " pancreas")}</VText>
    </g>
  );
}

function PanelM() {
  const y = d3.scaleLinear().domain([0, 40]).range([732, 647]);
  const x = d3.scalePoint<string>().domain(mDays.map(String)).range([615, 707]);
  const X = (i: number) => x(String(mDays[i])) as number;
  const ln = (v: number[]) => d3.line<number>().x((_, i) => X(i)).y((d) => y(d))(v) as string;
  const series = [
    { v: mWt, c: "#6f7f7f", dash: "2,1" },
    { v: mKo, c: "#1f3a8a", dash: undefined },
  ];
  return (
    <g>
      <Letter x={580} y={617} t="m" />
      <line x1={603} x2={614} y1={622} y2={622} stroke="#6f7f7f" strokeWidth={1} />
      <rect x={606.8} y={620.2} width={3.6} height={3.6} fill={INK} />
      <text x={617} y={625.5} fontSize={9}>{rk("wt", 9)}</text>
      <line x1={652} x2={663} y1={622} y2={622} stroke="#1f3a8a" strokeWidth={1} />
      <path d="M657.5,619.8L659.7,622L657.5,624.2L655.3,622Z" fill={INK} />
      <text x={666} y={625.5} fontSize={9}>{rk("ΔFoxn1", 9)}</text>
      <YAxis x={612} y={y} ticks={[0, 10, 20, 30, 40]} />
      <HLine x1={612} x2={712} y={732} />
      {mDays.map((d, i) => (
        <g key={d}>
          <line x1={X(i)} x2={X(i)} y1={732} y2={735} stroke={INK} strokeWidth={0.7} />
          {i % 2 === 0 && <text x={X(i)} y={745} textAnchor="middle" fontSize={8.5}>{d}</text>}
        </g>
      ))}
      {series.map((s, si) => (
        <g key={si}>
          <path d={ln(s.v)} fill="none" stroke={s.c} strokeWidth={1} strokeDasharray={s.dash} />
          {s.v.map((v, i) => (
            <path key={i} d={`M${X(i)},${y(v - mErr[i])}V${y(v + mErr[i])}M${X(i) - 2},${y(v + mErr[i])}H${X(i) + 2}M${X(i) - 2},${y(v - mErr[i])}H${X(i) + 2}`} stroke={INK} strokeWidth={0.6} fill="none" />
          ))}
          {s.v.map((v, i) => <rect key={"m" + i} x={X(i) - 2} y={y(v) - 2} width={4} height={4} fill={INK} />)}
        </g>
      ))}
      <Bracket x1={615} x2={707} y={647} legs={0} ty={641} color="#777" />
      <text x={660} y={758} textAnchor="middle" fontSize={9}>Days on HFD</text>
      <VText x={588} y={688} size={9}>Body weight (g)</VText>
    </g>
  );
}

function HfdLegend({ x, y }: any) {
  return (
    <g>
      <LRect x={x} y={y} fill={LTEAL} w={12} h={6.5} />
      <text x={x + 15} y={y + 6} fontSize={7.5}>{rk("wt", 7.5)}</text>
      <LRect x={x} y={y + 11} fill={NAVY} w={12} h={6.5} />
      <text x={x + 15} y={y + 17} fontSize={7.5}>{rk("ΔFoxn1", 7.5)}</text>
    </g>
  );
}
function NS({ x1, x2 }: any) {
  return <Bracket x1={x1} x2={x2} y={822} legs={0} ty={818} color="#a8a8a8" sw={1.6} size={7.5} />;
}

function PanelN() {
  const y1 = d3.scaleLinear().domain([0, 3]).range([912, 817]);
  const y2 = d3.scaleLinear().domain([0, 5]).range([913, 818]);
  return (
    <g>
      <Letter x={6} y={786} t="n" />
      <HfdLegend x={48} y={786} />
      <YAxis x={53} y={y1} ticks={[0, 1, 2, 3]} />
      <HLine x1={53} x2={88} y={912} />
      <BarSem cx={64.5} w={13} vals={nLiverWt} y={y1} fill={LTEAL} />
      <BarSem cx={79.5} w={13} vals={nLiverKo} y={y1} fill={NAVY} />
      <NS x1={65} x2={82} />
      <text x={72} y={929} textAnchor="middle" fontSize={9}>HFD</text>
      <VText x={35} y={864} size={9}>Liver weight (g)</VText>

      <YAxis x={117} y={y2} ticks={[0, 1, 2, 3, 4, 5]} />
      <HLine x1={117} x2={157} y={913} />
      <BarSem cx={135} w={14} vals={nVatWt} y={y2} fill={LTEAL} />
      <BarSem cx={150} w={14} vals={nVatKo} y={y2} fill={NAVY} />
      <NS x1={131} x2={153} />
      <text x={143} y={929} textAnchor="middle" fontSize={9}>HFD</text>
      <VText x={106} y={865} size={9}>VAT weight (g)</VText>
    </g>
  );
}

function PanelO() {
  const y = d3.scaleLinear().domain([0, 5]).range([916, 822]);
  return (
    <g>
      <Letter x={176} y={786} t="o" />
      <HfdLegend x={191} y={786} />
      <YAxis x={197} y={y} ticks={[0, 1, 2, 3, 4, 5]} />
      <HLine x1={197} x2={243} y={916} />
      <BoxPlot cx={213.5} w={13} vals={oThyWt} y={y} fill={LTEAL} r={2.3} />
      <BoxPlot cx={228.5} w={13} vals={oThyKo} y={y} fill={NAVY} r={2.3} />
      <NS x1={215} x2={230} />
      <text x={222} y={929} textAnchor="middle" fontSize={9}>HFD</text>
      <VText x={185} y={868} size={9}>Thymic Tregs (% of CD4)</VText>
    </g>
  );
}

function PanelP() {
  const y = d3.scaleLinear().domain([0, 500]).range([914, 822]);
  const x = d3.scalePoint<string>().domain(pTimes.map(String)).range([314, 401]);
  const X = (i: number) => x(String(pTimes[i])) as number;
  const ln = (v: number[]) => d3.line<number>().x((_, i) => X(i)).y((d) => y(d))(v) as string;
  const ya = d3.scaleLinear().domain([0, 5]).range([915, 823]);
  const eb = (v: number[], e: number[]) =>
    v.map((d, i) => (
      <path key={i} d={`M${X(i)},${y(d - e[i])}V${y(d + e[i])}M${X(i) - 1.8},${y(d + e[i])}H${X(i) + 1.8}M${X(i) - 1.8},${y(d - e[i])}H${X(i) + 1.8}`} stroke={INK} strokeWidth={0.6} fill="none" />
    ));
  return (
    <g>
      <Letter x={277} y={786} t="p" />
      <line x1={292} x2={301} y1={793} y2={793} stroke="#9fcfcd" strokeWidth={1.4} />
      <rect x={294.7} y={791.2} width={3.6} height={3.6} fill={INK} />
      <text x={304} y={796} fontSize={9}>{rk("wt", 9)}</text>
      <line x1={351} x2={361} y1={793} y2={793} stroke={NAVY} strokeWidth={1.4} />
      <circle cx={356} cy={793} r={1.8} fill={INK} />
      <text x={364} y={796} fontSize={9}>{rk("ΔFoxn1", 9)}</text>

      <YAxis x={305} y={y} ticks={[0, 100, 200, 300, 400, 500]} />
      <HLine x1={305} x2={407} y={914} />
      {pTimes.map((t, i) => (
        <g key={t}>
          <line x1={X(i)} x2={X(i)} y1={914} y2={917} stroke={INK} strokeWidth={0.7} />
          <text x={X(i)} y={926} textAnchor="middle" fontSize={8.5}>{t}</text>
        </g>
      ))}
      {eb(pWt, pWtErr)}
      {eb(pKo, pKoErr)}
      <path d={ln(pWt)} fill="none" stroke="#9fcfcd" strokeWidth={1.5} />
      <path d={ln(pKo)} fill="none" stroke={NAVY} strokeWidth={1.5} />
      {pWt.map((v, i) => <rect key={"w" + i} x={X(i) - 1.9} y={y(v) - 1.9} width={3.8} height={3.8} fill={INK} />)}
      {pKo.map((v, i) => <circle key={"k" + i} cx={X(i)} cy={y(v)} r={1.9} fill={INK} />)}
      <text x={357} y={908} textAnchor="middle" fontSize={8.5}>OGTT on HFD</text>
      <text x={357} y={939} textAnchor="middle" fontSize={9}>Time (min)</text>
      <VText x={280} y={863} size={9}>Glucose  (mg/dl)</VText>

      <HfdLegend x={453} y={786} />
      <YAxis x={452} y={ya} ticks={[0, 1, 2, 3, 4, 5]} />
      <HLine x1={452} x2={487} y={915} />
      <BarSem cx={461.5} w={11.5} vals={pAucWt} y={ya} fill={LTEAL} />
      <BarSem cx={477.5} w={11.5} vals={pAucKo} y={ya} fill={NAVY} />
      <NS x1={458} x2={478} />
      <text x={467} y={929} textAnchor="middle" fontSize={9}>HFD</text>
      <VText x={423} y={863} size={9}>Glucose AUC</VText>
      <VText x={433} y={863} size={9}>(mg/dl*time, x10{sp("4", 9, ")")}</VText>
    </g>
  );
}

function PanelQ() {
  const y = d3.scaleLinear().domain([0, 2]).range([914, 822]);
  const f = d3.format(".1f");
  return (
    <g>
      <Letter x={516} y={786} t="q" />
      <HfdLegend x={553} y={786} />
      <YAxis x={571} y={y} ticks={[0, 0.5, 1, 1.5, 2]} fmt={f} />
      <HLine x1={571} x2={608} y={914} />
      <BoxPlot cx={582} w={13} vals={qVatWt} y={y} fill={LTEAL} r={2.3} />
      <BoxPlot cx={598} w={14} vals={qVatKo} y={y} fill={NAVY} r={2.3} />
      <NS x1={583} x2={600} />
      <text x={590} y={929} textAnchor="middle" fontSize={9}>HFD</text>
      <VText x={543} y={868} size={9}>Tregs/gram of  VAT (x10{sp("3", 9, ")")}</VText>
    </g>
  );
}

function PanelR() {
  const y = d3.scaleLinear().domain([0, 4]).range([916, 824]);
  return (
    <g>
      <Letter x={631} y={786} t="r" />
      <HfdLegend x={646} y={786} />
      <YAxis x={660} y={y} ticks={[0, 1, 2, 3, 4]} />
      <HLine x1={660} x2={699} y={916} />
      <BarSem cx={674.5} w={13} vals={rInsWt} y={y} fill={LTEAL} r={2.1} />
      <BarSem cx={691.5} w={13} vals={rInsKo} y={y} fill={NAVY} r={2.1} />
      <NS x1={673} x2={690} />
      <text x={683} y={929} textAnchor="middle" fontSize={9}>HFD</text>
      <VText x={644} y={866} size={9}>Insulin ( ng/ml)</VText>
    </g>
  );
}

export default function App() {
  return (
    <svg width={800} height={949} viewBox="0 0 800 949" fontFamily={FONT} fill={INK}
      style={{ position: "absolute", left: 0, top: 0, background: "#fff" }}>
      <rect width={800} height={949} fill="#fff" />
      <PanelA />
      <PanelB />
      <PanelC />
      <PanelD />
      <PanelE />
      <PanelF />
      <PanelG />
      <PanelH />
      <PanelI />
      <PanelJ />
      <PanelK />
      <PanelL />
      <PanelM />
      <PanelN />
      <PanelO />
      <PanelP />
      <PanelQ />
      <PanelR />
    </svg>
  );
}
